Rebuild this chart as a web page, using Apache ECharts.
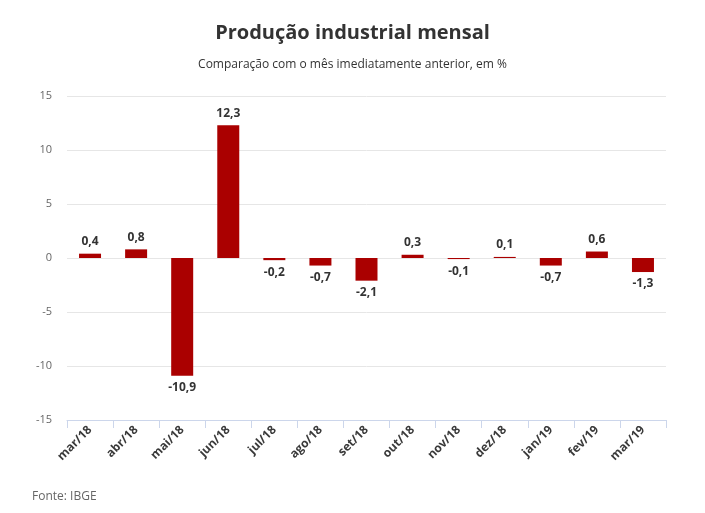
<!DOCTYPE html>
<html><head><meta charset="utf-8">
<script src="https://cdn.jsdelivr.net/npm/echarts@6/dist/echarts.min.js"></script>
<style>html,body{margin:0;padding:0;background:#fff}#c{width:705px;height:513px}</style>
</head><body><div id="c"></div>
<script>
const categories = ["mar/18","abr/18","mai/18","jun/18","jul/18","ago/18","set/18","out/18","nov/18","dez/18","jan/19","fev/19","mar/19"];
const values = [0.4, 0.8, -10.9, 12.3, -0.2, -0.7, -2.1, 0.3, -0.1, 0.1, -0.7, 0.6, -1.3];
const yTicks = [-15, -10, -5, 0, 5, 10, 15];
const titleText = "Produção industrial mensal";
const subtitleText = "Comparação com o mês imediatamente anterior, em %";
const sourceText = "Fonte: IBGE";

const font = "'Open Sans', sans-serif";
const chart = echarts.init(document.getElementById('c'));
chart.setOption({
  animation: false,
  textStyle: { fontFamily: font },
  title: [
    { text: titleText, left: 'center', top: 18, textStyle: { fontFamily: font, fontSize: 20, fontWeight: 'bold', color: '#333' } },
    { text: subtitleText, left: 'center', top: 54, textStyle: { fontFamily: font, fontSize: 12, fontWeight: 'normal', color: '#333' } },
    { text: sourceText, left: 27, top: 486, textStyle: { fontFamily: font, fontSize: 12, fontWeight: 'normal', color: '#666' } }
  ],
  grid: { left: 67, right: 39, top: 96, bottom: 93, containLabel: false },
  xAxis: {
    type: 'category', data: categories, position: 'bottom',
    axisLine: { onZero: false, lineStyle: { color: '#ccd6eb' } },
    axisTick: { show: true, length: 8, lineStyle: { color: '#ccd6eb' } },
    axisLabel: { rotate: 45, fontFamily: font, fontSize: 12, fontWeight: 'bold', color: '#3a3a3a', margin: 8 },
    splitLine: { show: false }
  },
  yAxis: {
    type: 'value', min: yTicks[0], max: yTicks[yTicks.length-1], interval: 5,
    axisLine: { show: false }, axisTick: { show: false },
    axisLabel: { fontFamily: font, fontSize: 11, color: '#666', margin: 15 },
    splitLine: { lineStyle: { color: '#e6e6e6' } }
  },
  series: [{
    type: 'bar', data: values, barWidth: 22,
    itemStyle: { color: '#aa0000' },
    label: {
      show: true, position: 'outside', distance: 6,
      fontFamily: font, fontSize: 12, fontWeight: 'bold', color: '#333',
      formatter: p => String(p.value).replace('.', ',')
    }
  }]
});
</script></body></html>
